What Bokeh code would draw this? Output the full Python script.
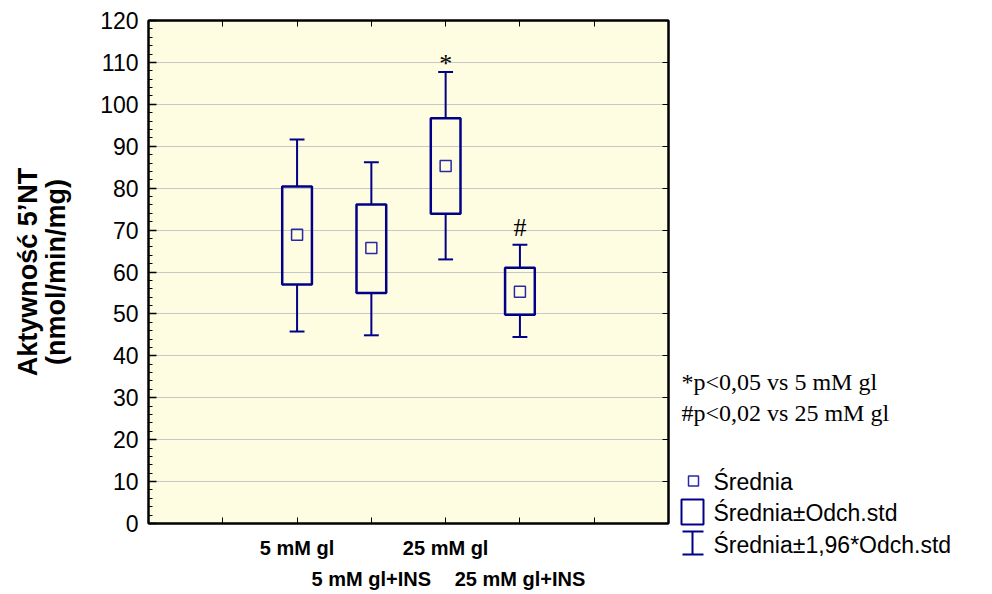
from bokeh.plotting import figure
from bokeh.layouts import row
from bokeh.models import Range1d, FixedTicker, LinearAxis, Label, ColumnDataSource
from bokeh.core.properties import value
from bokeh.embed import file_html
from bokeh.resources import INLINE

# ---------------- data ----------------
groups = ["5 mM gl", "5 mM gl+INS", "25 mM gl", "25 mM gl+INS"]
positions = [2, 3, 4, 5]
means = [68.9, 65.7, 85.3, 55.3]
sd_low = [57.0, 55.0, 73.9, 49.8]
sd_high = [80.4, 76.1, 96.7, 61.0]
ci_low = [45.8, 44.9, 63.0, 44.5]
ci_high = [91.6, 86.2, 107.7, 66.5]
marks = ["", "", "*", "#"]
y_ticks = list(range(0, 121, 10))
y_minor = list(range(0, 121, 2))
x_ticks = [1, 2, 3, 4, 5, 6]
notes = ["*p<0,05 vs 5 mM gl", "#p<0,02 vs 25 mM gl"]
legend_labels = ["Średnia", "Średnia±Odch.std", "Średnia±1,96*Odch.std"]
y_title = "Aktywność 5’NT\n(nmol/min/mg)"

# ---------------- style / layout ----------------
W, H = 992, 594
MAIN_W = 676
L, R, T, B = 148, 668, 20, 523
XMAX, YMAX = 7, 120
NAVY = "#000088"
MEAN_C = "#2828A8"
BG = "#FFFDE1"
SANS = "Liberation Sans"
SERIF = "Liberation Serif"

p = figure(width=MAIN_W, height=H, x_range=Range1d(0, XMAX), y_range=Range1d(0, YMAX),
           output_backend="svg", toolbar_location=None,
           min_border_left=L, min_border_right=MAIN_W - R, min_border_top=T,
           min_border_bottom=H - B,
           background_fill_color=BG, border_fill_color="white")
p.frame_align = False
p.outline_line_color = "black"
p.outline_line_width = 2

# y axis
p.yaxis.ticker = FixedTicker(ticks=y_ticks, minor_ticks=y_minor)
p.yaxis.major_tick_in = 8
p.yaxis.major_tick_out = 0
p.yaxis.minor_tick_in = 4
p.yaxis.minor_tick_out = 0
p.yaxis.axis_line_width = 2
p.yaxis.major_tick_line_width = 1.5
p.yaxis.major_label_text_font = SANS
p.yaxis.major_label_text_font_size = "23px"
p.yaxis.major_label_text_color = "black"
p.yaxis.major_label_standoff = 10
p.yaxis.axis_label = y_title
p.yaxis.axis_label_text_font = SANS
p.yaxis.axis_label_text_font_size = "27px"
p.yaxis.axis_label_text_font_style = "bold"
p.yaxis.axis_label_text_color = "black"
p.yaxis.axis_label_text_line_height = 0.95
p.yaxis.axis_label_standoff = 26

# x axis, first row of category labels
row1 = {t: "" for t in x_ticks}
row2 = {}
for i, (x, g) in enumerate(zip(positions, groups)):
    if i % 2 == 0:
        row1[x] = g
    else:
        row2[x] = g
p.xaxis.ticker = FixedTicker(ticks=x_ticks)
p.xaxis.major_label_overrides = row1
p.xaxis.major_tick_in = 6
p.xaxis.major_tick_out = 0
p.xaxis.minor_tick_line_color = None
p.xaxis.axis_line_width = 2
p.xaxis.major_label_text_font = SANS
p.xaxis.major_label_text_font_size = "20px"
p.xaxis.major_label_text_font_style = "bold"
p.xaxis.major_label_text_color = "black"
p.xaxis.major_label_standoff = 13

# second row of category labels
ax2 = LinearAxis(ticker=FixedTicker(ticks=list(row2.keys())), major_label_overrides=row2,
                 axis_line_color=None, major_tick_line_color=None, minor_tick_line_color=None,
                 major_label_text_font=SANS, major_label_text_font_size="20px",
                 major_label_text_font_style="bold", major_label_text_color="black",
                 major_label_standoff=0)
p.add_layout(ax2, "below")

# top and right frame ticks
top_axis = LinearAxis(ticker=FixedTicker(ticks=x_ticks), major_tick_in=6, major_tick_out=0,
                      minor_tick_line_color=None,
                      major_label_overrides={t: "" for t in x_ticks},
                      major_label_standoff=0, axis_line_width=2)
p.add_layout(top_axis, "above")
right_axis = LinearAxis(ticker=FixedTicker(ticks=y_ticks), major_tick_in=6, major_tick_out=0,
                        minor_tick_line_color=None,
                        major_label_overrides={t: "" for t in y_ticks},
                        major_label_standoff=0, axis_line_width=2)
p.add_layout(right_axis, "right")

p.xgrid.grid_line_color = None
p.ygrid.ticker = FixedTicker(ticks=y_ticks)
p.ygrid.grid_line_color = "#C8C8C8"
p.ygrid.grid_line_width = 1.2

# ---------------- glyphs ----------------
half_box = 0.2
half_cap = 0.1
src = ColumnDataSource(dict(
    x=positions, mean=means, lo=sd_low, hi=sd_high, clo=ci_low, chi=ci_high,
    left=[x - half_box for x in positions], right=[x + half_box for x in positions],
    c0=[x - half_cap for x in positions], c1=[x + half_cap for x in positions],
))
p.segment(x0="x", y0="hi", x1="x", y1="chi", source=src, line_color=NAVY, line_width=2)
p.segment(x0="x", y0="lo", x1="x", y1="clo", source=src, line_color=NAVY, line_width=2)
p.segment(x0="c0", y0="chi", x1="c1", y1="chi", source=src, line_color=NAVY, line_width=2)
p.segment(x0="c0", y0="clo", x1="c1", y1="clo", source=src, line_color=NAVY, line_width=2)
p.quad(left="left", right="right", bottom="lo", top="hi", source=src,
       fill_color=None, line_color=NAVY, line_width=2.5)
p.scatter(x="x", y="mean", source=src, marker="square", size=11,
          fill_color=None, line_color=MEAN_C, line_width=1.5)

# significance marks (offset in px above the upper whisker)
mark_style = {"*": dict(size="26px", off=9), "#": dict(size="26px", off=17)}
for x, top, m in zip(positions, ci_high, marks):
    if m:
        st = mark_style[m]
        p.add_layout(Label(x=x, y=top, text=m, text_align="center", text_baseline="middle",
                           y_offset=st["off"], text_font=SERIF, text_font_size=st["size"],
                           text_color="black"))

# ---------------- side panel: notes + legend ----------------
SIDE_W = W - MAIN_W
q = figure(width=SIDE_W, height=H, x_range=Range1d(0, SIDE_W), y_range=Range1d(H, 0),
           output_backend="svg", toolbar_location=None, x_axis_type=None, y_axis_type=None,
           min_border=0, outline_line_color=None, background_fill_color="white",
           border_fill_color="white")
q.frame_align = False
q.xgrid.grid_line_color = None
q.ygrid.grid_line_color = None

note_x, note_y0, note_dy = 5, 381, 31
q.text(x=[note_x] * len(notes), y=[note_y0 + note_dy * i for i in range(len(notes))], text=notes,
       text_font=value(SERIF), text_font_size="24px", text_color="black",
       text_align="left", text_baseline="middle")

leg_text_x = 37
leg_y = [481, 512, 544]
q.text(x=[leg_text_x] * len(legend_labels), y=leg_y, text=legend_labels,
       text_font=value(SANS), text_font_size="23px", text_color="black",
       text_align="left", text_baseline="middle")

# legend icons
q.scatter(x=[17], y=[480.5], marker="square", size=10, fill_color=None,
          line_color=MEAN_C, line_width=1.5)
q.quad(left=[5], right=[27], top=[499], bottom=[524], fill_color=None,
       line_color=NAVY, line_width=2)
q.segment(x0=[6, 6, 16], y0=[531, 554, 531], x1=[27, 27, 16], y1=[531, 554, 554],
          line_color=NAVY, line_width=2)

layout = row(p, q, spacing=0)
open("out.html", "w").write(file_html(layout, INLINE))
